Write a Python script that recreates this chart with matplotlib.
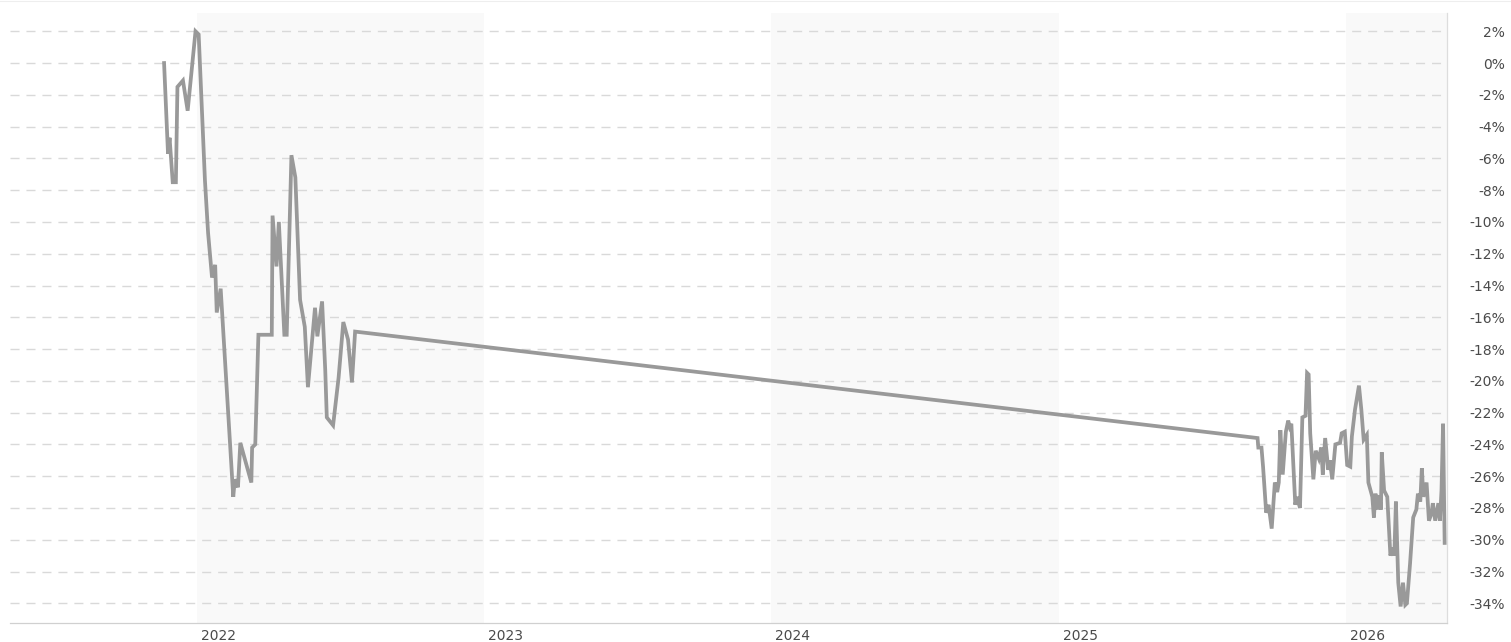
import pandas as pd
import matplotlib
matplotlib.use('Agg')
import matplotlib.pyplot as plt
import matplotlib.transforms as mtransforms
from matplotlib.lines import Line2D

# cumulative change, percent
dates = [
    '2021-11-20', '2021-11-25', '2021-11-27', '2021-12-01', '2021-12-05', '2021-12-07',
    '2021-12-14', '2021-12-20', '2021-12-30', '2022-01-03', '2022-01-11', '2022-01-15',
    '2022-01-20', '2022-01-24', '2022-01-26', '2022-01-31', '2022-02-16', '2022-02-18',
    '2022-02-22', '2022-02-25', '2022-03-11', '2022-03-12', '2022-03-16', '2022-03-20',
    '2022-04-06', '2022-04-07', '2022-04-12', '2022-04-15', '2022-04-22', '2022-04-25',
    '2022-05-01', '2022-05-06', '2022-05-12', '2022-05-18', '2022-05-22', '2022-05-31',
    '2022-06-03', '2022-06-09', '2022-06-13', '2022-06-15', '2022-06-23', '2022-06-30',
    '2022-07-06', '2022-07-12', '2022-07-17', '2022-07-21',
    '2025-09-11', '2025-09-12', '2025-09-16', '2025-09-18', '2025-09-22', '2025-09-25',
    '2025-09-29', '2025-10-03', '2025-10-06', '2025-10-08', '2025-10-10', '2025-10-13',
    '2025-10-17', '2025-10-20', '2025-10-22', '2025-10-24', '2025-10-29', '2025-10-31',
    '2025-11-04', '2025-11-07', '2025-11-11', '2025-11-13', '2025-11-15', '2025-11-17',
    '2025-11-21', '2025-11-24', '2025-11-28', '2025-12-01', '2025-12-03', '2025-12-06',
    '2025-12-10', '2025-12-12', '2025-12-15', '2025-12-19', '2025-12-25', '2025-12-27',
    '2025-12-31', '2026-01-03', '2026-01-07', '2026-01-09', '2026-01-13', '2026-01-18',
    '2026-01-21', '2026-01-24', '2026-01-28', '2026-01-30', '2026-02-04', '2026-02-06',
    '2026-02-08', '2026-02-10', '2026-02-13', '2026-02-15', '2026-02-16', '2026-02-19',
    '2026-02-23', '2026-02-27', '2026-03-02', '2026-03-04', '2026-03-06', '2026-03-09',
    '2026-03-12', '2026-03-15', '2026-03-18', '2026-03-20', '2026-03-24', '2026-03-28',
    '2026-04-01', '2026-04-03', '2026-04-06', '2026-04-08', '2026-04-10', '2026-04-14',
    '2026-04-17', '2026-04-20', '2026-04-22', '2026-04-25', '2026-04-29', '2026-05-01',
    '2026-05-03', '2026-05-05', '2026-05-07',
]
values = [
    0.0, -5.7, -4.7, -7.5, -7.5, -1.5,
    -1.1, -3.0, 2.0, 1.8, -7.4, -10.7,
    -13.5, -12.7, -15.7, -14.2, -27.3, -26.2,
    -26.7, -23.9, -26.4, -24.2, -24.0, -17.1,
    -17.1, -9.6, -12.8, -10.0, -17.1, -17.1,
    -5.8, -7.2, -14.9, -16.6, -20.4, -15.4,
    -17.2, -15.0, -19.3, -22.3, -22.8, -19.8,
    -16.3, -17.4, -20.1, -16.9,
    -23.6, -24.2, -24.2, -25.4, -28.3, -27.8,
    -29.3, -26.4, -27.0, -26.4, -23.1, -25.9,
    -23.2, -22.5, -22.9, -22.7, -27.8, -27.3,
    -28.0, -22.3, -22.2, -19.5, -19.6, -23.3,
    -26.2, -24.4, -24.9, -24.2, -25.9, -23.6,
    -25.6, -25.0, -26.2, -24.0, -23.9, -23.3,
    -23.2, -25.3, -25.4, -23.5, -21.8, -20.3,
    -21.8, -23.7, -23.4, -26.4, -27.3, -28.6,
    -27.1, -28.1, -27.2, -28.1, -24.5, -26.9,
    -27.3, -31.0, -30.5, -31.0, -27.6, -32.7,
    -34.2, -32.7, -34.1, -34.0, -31.5, -28.6,
    -28.1, -27.1, -27.6, -25.5, -27.3, -26.4,
    -28.8, -28.4, -27.7, -28.8, -27.7, -28.8,
    -26.9, -22.7, -30.2,
]
years = [2022, 2023, 2024, 2025, 2026]
shaded_years = [2022, 2024, 2026]
y_ticks = list(range(-34, 3, 2))

plt.rc('font', family='DejaVu Sans', size=10)

fig = plt.figure(figsize=(15.11, 6.42), dpi=100)
ax = fig.add_axes([10 / 1511, 19 / 642, 1437 / 1511, 610 / 642])

for yr in shaded_years:
    ax.axvspan(pd.Timestamp(f'{yr}-01-01'), pd.Timestamp(f'{yr + 1}-01-01'),
               color='#f9f9f9', lw=0, zorder=0)

ax.plot(pd.to_datetime(dates), values, color='#999999', lw=2.7,
        solid_joinstyle='miter', zorder=3)

ax.set_xlim(pd.Timestamp('2021-05-08'), pd.Timestamp('2026-05-10'))
ax.set_ylim(-35.24, 3.15)

ax.set_axisbelow(True)
ax.grid(axis='y', color='#d9d9d9', lw=1.0, linestyle=(0, (6.5, 5)))

ax.yaxis.tick_right()
ax.set_yticks(y_ticks)
ax.set_yticklabels([f'{v}%' for v in y_ticks])
ax.tick_params(axis='y', length=0, pad=42, labelcolor='#4a4a4a')
for t in ax.get_yticklabels():
    t.set_horizontalalignment('right')

ax.set_xticks([pd.Timestamp(f'{y}-01-01') for y in years])
ax.set_xticklabels([str(y) for y in years])
ax.tick_params(axis='x', length=0, pad=4, labelcolor='#4a4a4a')
shift = mtransforms.ScaledTranslation(4 / 100, 0, fig.dpi_scale_trans)
for t in ax.get_xticklabels():
    t.set_horizontalalignment('left')
    t.set_transform(t.get_transform() + shift)

for side in ['top', 'left']:
    ax.spines[side].set_visible(False)
ax.spines['bottom'].set_color('#d0d0d0')
ax.spines['bottom'].set_linewidth(0.9)
ax.spines['right'].set_color('#dddddd')
ax.spines['right'].set_linewidth(0.9)

fig.add_artist(Line2D([0, 1], [0.9992, 0.9992], transform=fig.transFigure,
                      color='#eeeeee', lw=0.8))

fig.savefig('out.png', dpi=100)
